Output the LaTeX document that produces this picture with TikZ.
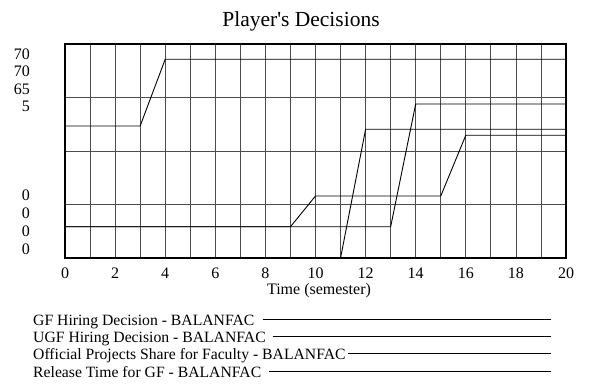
\documentclass[tikz,border=0pt]{standalone}
\usepackage{fontspec}
\setmainfont{Liberation Serif}
\begin{document}
\begin{tikzpicture}[x=1pt,y=1pt,
  gridline/.style={draw=black!70,line width=0.8pt},
  series/.style={draw=black,line width=0.9pt,line join=miter},
  plotframe/.style={draw=black,line width=1.7pt},
  tick/.style={inner sep=0pt,font=\fontsize{16}{18}\selectfont},
  ylab/.style={inner sep=0pt,anchor=east,font=\fontsize{16}{18}\selectfont},
  legendtext/.style={inner sep=0pt,anchor=base west,font=\fontsize{15.7}{18}\selectfont},
  legendrule/.style={draw=black,line width=0.8pt}]
\useasboundingbox (0,0) rectangle (589,385);

% title
\node[inner sep=0pt,anchor=base,font=\fontsize{21.5}{24}\selectfont] (title) at (301,358.3) {Player\textquotesingle s Decisions};

% plot area: 20 semesters wide, values as fractions of the height
\begin{scope}[shift={(65,127)},x=25.05pt,y=214pt]
  \foreach \t in {1,...,19} \draw[gridline] (\t,0) -- (\t,1);
  \foreach \v in {0.25,0.5,0.75} \draw[gridline] (0,\v) -- (20,\v);
  % decision trajectories
  \draw[series] (0,0.6168) -- (3,0.6168) -- (4,0.9285) -- (20,0.9285);
  \draw[series] (0,0.146) -- (9,0.146) -- (10,0.2897) -- (15,0.2897) -- (16,0.5734) -- (20,0.5734);
  \draw[series] (0,0) -- (11,0) -- (12,0.6014) -- (20,0.6014);
  \draw[series] (0,0.146) -- (13,0.146) -- (14,0.7196) -- (20,0.7196);
  \draw[plotframe] (0,0) rectangle (20,1);
  % time axis labels
  \foreach \t in {0,2,...,20} \node[tick] (xt\t) at ([yshift=-15.5pt]\t,0) {\t};
\end{scope}
\node[inner sep=0pt,anchor=base,font=\fontsize{16}{18}\selectfont] (xlabel) at (319,90.5) {Time (semester)};

% value labels of the four scales
\node[ylab] (ya1) at (30,331) {70};
\node[ylab] (ya2) at (30,313.3) {70};
\node[ylab] (ya3) at (30,295.7) {65};
\node[ylab] (ya4) at (30,278.3) {5};
\node[ylab] (yb1) at (30,189.3) {0};
\node[ylab] (yb2) at (30,171.7) {0};
\node[ylab] (yb3) at (30,154) {0};
\node[ylab] (yb4) at (30,136) {0};

% legend
\node[legendtext] (lg1) at (33,59.5) {GF Hiring Decision - BALANFAC};
\node[legendtext] (lg2) at (33,42.5) {UGF Hiring Decision - BALANFAC};
\node[legendtext] (lg3) at (33,25.2) {Official Projects Share for Faculty - BALANFAC};
\node[legendtext] (lg4) at (33,7.5) {Release Time for GF - BALANFAC};
\coordinate (le1) at (550.7,66);
\coordinate (le2) at (550.7,49);
\coordinate (le3) at (550.7,31.7);
\coordinate (le4) at (550.7,14);
\draw[legendrule] ([xshift=8pt]lg1.east |- le1) -- (le1);
\draw[legendrule] ([xshift=7pt]lg2.east |- le2) -- (le2);
\draw[legendrule] ([xshift=2pt]lg3.east |- le3) -- (le3);
\draw[legendrule] ([xshift=8pt]lg4.east |- le4) -- (le4);
\end{tikzpicture}
\end{document}
